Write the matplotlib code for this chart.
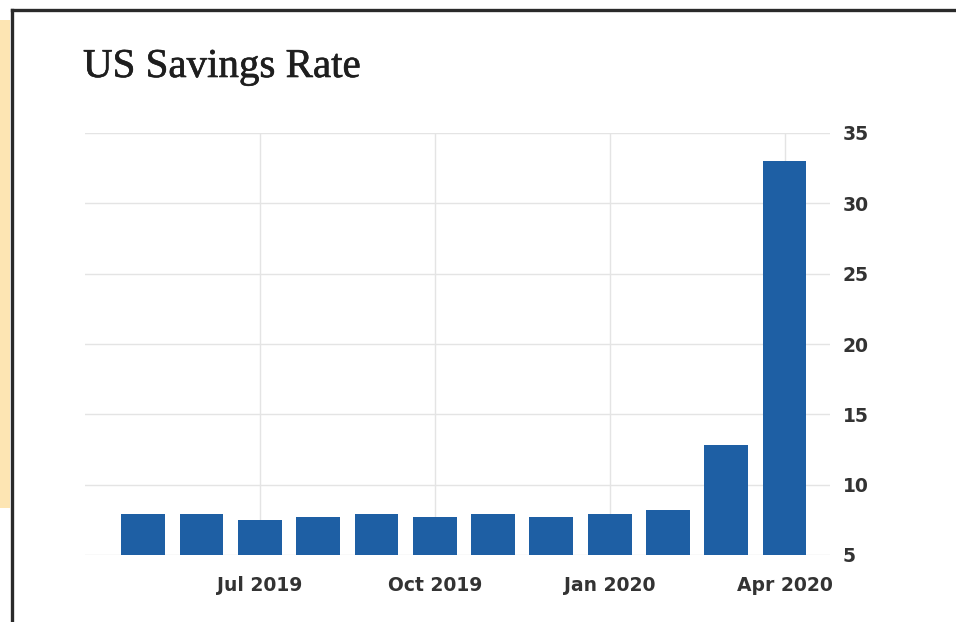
import matplotlib

matplotlib.use('Agg')
import matplotlib.pyplot as plt
import matplotlib.patheffects as pe
from matplotlib.patches import Rectangle
from matplotlib.lines import Line2D

MONTHS = ["May 2019", "Jun 2019", "Jul 2019", "Aug 2019", "Sep 2019", "Oct 2019",
          "Nov 2019", "Dec 2019", "Jan 2020", "Feb 2020", "Mar 2020", "Apr 2020"]
SAVINGS = [7.9, 7.9, 7.5, 7.7, 7.9, 7.7, 7.9, 7.7, 7.9, 8.2, 12.8, 33.0]
TICK_MONTHS = ["Jul 2019", "Oct 2019", "Jan 2020", "Apr 2020"]
Y_TICKS = [5, 10, 15, 20, 25, 30, 35]

BAR_COLOR = "#1e5fa4"
GRID_COLOR = "#e4e4e4"
LABEL_COLOR = "#333333"

fig = plt.figure(figsize=(9.56, 6.22), dpi=100)
fig.patch.set_facecolor("white")

# beige strip + black frame
fig.patches.append(Rectangle((0, 1 - 508 / 622), 10 / 956, 488 / 622,
                             transform=fig.transFigure, facecolor="#fde5b3",
                             edgecolor="none", zorder=0))
fig.lines.append(Line2D([12 / 956, 1], [1 - 10 / 622] * 2, transform=fig.transFigure,
                        color="#2a2a2a", linewidth=2.4))
fig.lines.append(Line2D([12 / 956] * 2, [0, 1 - 10 / 622], transform=fig.transFigure,
                        color="#2a2a2a", linewidth=2.4))

fig.text(83 / 956, 1 - 77 / 622, "US Savings Rate", family="Liberation Serif",
         fontsize=29.5, color="#1e1e1e", ha="left", va="baseline",
         path_effects=[pe.withStroke(linewidth=0.45, foreground="#1e1e1e")])

ax = fig.add_axes([85 / 956, 1 - 555 / 622, 745 / 956, 422 / 622])
x = list(range(len(MONTHS)))
ax.bar(x, [v - 5 for v in SAVINGS], bottom=5, width=0.75, color=BAR_COLOR, zorder=3)

ax.set_xlim(-1.0, 11.78)
ax.set_ylim(5, 35)
ax.set_xticks([MONTHS.index(m) for m in TICK_MONTHS])
ax.set_xticklabels(TICK_MONTHS)
ax.set_yticks(Y_TICKS)
ax.yaxis.tick_right()
ax.tick_params(axis="y", length=0, pad=9, labelsize=13.5, labelcolor=LABEL_COLOR)
ax.tick_params(axis="x", length=0, pad=15, labelsize=13.5, labelcolor=LABEL_COLOR)
for lbl in ax.get_xticklabels() + ax.get_yticklabels():
    lbl.set_fontweight("bold")
ax.grid(True, color=GRID_COLOR, linewidth=1, zorder=0)
for s in ax.spines.values():
    s.set_visible(False)

fig.savefig("out.png", dpi=100)
